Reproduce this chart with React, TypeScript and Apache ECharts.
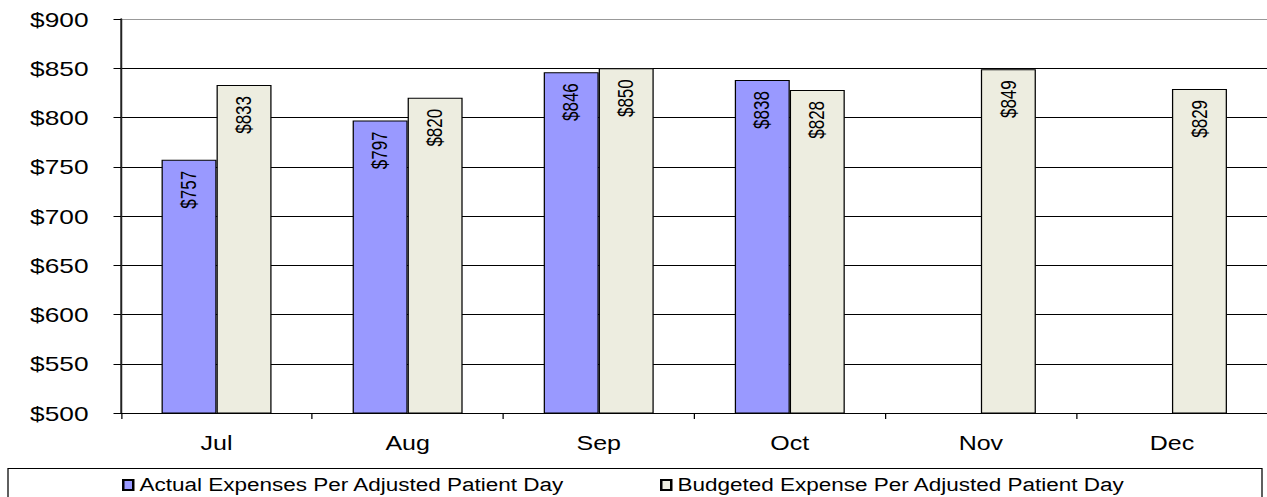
import React, { useEffect, useRef } from "react";
import * as echarts from "echarts";

const categories = ["Jul", "Aug", "Sep", "Oct", "Nov", "Dec"];
const actualValues: (number | null)[] = [757, 797, 846, 838, null, null];
const budgetValues: number[] = [833, 820, 850, 828, 849, 829];
const actualName = "Actual Expenses Per Adjusted Patient Day";
const budgetName = "Budgeted Expense Per Adjusted Patient Day";

const STRETCH = 1.25;
const W = 1267 / STRETCH;
const H = 497;
const FONT = '"Liberation Sans", Arial, sans-serif';

export default function App() {
  const ref = useRef<HTMLDivElement>(null);
  useEffect(() => {
    if (!ref.current) return;
    const chart = echarts.init(ref.current, null, { renderer: "svg" });
    const splitColors = ["#000", "#000", "#000", "#000", "#000", "#000", "#000", "#000", "#999"];
    const labelCfg = {
      show: true,
      position: "insideTop",
      rotate: 90,
      align: "right",
      verticalAlign: "middle",
      distance: 11,
      fontSize: 17,
      fontWeight: "normal",
      fontFamily: FONT,
      color: "#000",
      formatter: (p: any) => "$" + p.value,
    };
    chart.setOption({
      animation: false,
      backgroundColor: "#fff",
      grid: { left: 121 / STRETCH, right: 0, top: 19, bottom: 84 },
      xAxis: {
        type: "category",
        data: categories,
        axisLine: { show: true, lineStyle: { color: "#000", width: 1 } },
        axisTick: { show: true, length: 6, lineStyle: { color: "#000" } },
        axisLabel: { fontSize: 20, fontWeight: "normal", fontFamily: FONT, color: "#000", margin: 20 },
        splitLine: { show: false },
      },
      yAxis: {
        type: "value",
        min: 500,
        max: 900,
        interval: 50,
        axisLine: { show: true, lineStyle: { color: "#222", width: 1.6 } },
        axisTick: { show: true, length: 6, lineStyle: { color: "#000" } },
        axisLabel: {
          fontSize: 21,
          fontWeight: "normal",
          fontFamily: FONT,
          color: "#000",
          margin: 26,
          formatter: (v: number) => "$" + v,
        },
        splitLine: { show: true, lineStyle: { color: splitColors, width: 1 } },
      },
      legend: [
        {
          data: [actualName],
          left: 122 / STRETCH,
          top: 476,
          icon: "rect",
          itemWidth: 8,
          itemHeight: 10,
          padding: 0,
          textStyle: { fontSize: 18, fontFamily: FONT, color: "#000" },
        },
        {
          data: [budgetName],
          left: 660 / STRETCH,
          top: 476,
          icon: "rect",
          itemWidth: 8,
          itemHeight: 10,
          padding: 0,
          textStyle: { fontSize: 18, fontFamily: FONT, color: "#000" },
        },
      ],
      graphic: [
        {
          type: "rect",
          shape: { x: 8 / STRETCH, y: 468.5, width: (1262 - 8) / STRETCH, height: 60 },
          style: { fill: "none", stroke: "#000", lineWidth: 1 },
          silent: true,
        },
      ],
      series: [
        {
          name: actualName,
          type: "bar",
          data: actualValues,
          barWidth: 55 / STRETCH,
          barGap: "0%",
          itemStyle: { color: "#9999FF", borderColor: "#000", borderWidth: 1 },
          label: labelCfg,
        },
        {
          name: budgetName,
          type: "bar",
          data: budgetValues,
          barWidth: 55 / STRETCH,
          barGap: "0%",
          itemStyle: { color: "#EDEDE0", borderColor: "#000", borderWidth: 1 },
          label: labelCfg,
        },
      ],
    });
    return () => chart.dispose();
  }, []);
  return (
    <div
      style={{
        position: "fixed",
        left: 0,
        top: 0,
        width: 1267,
        height: H,
        overflow: "hidden",
        background: "#fff",
      }}
    >
      <div
        ref={ref}
        style={{
          width: W,
          height: H,
          transform: `scaleX(${STRETCH})`,
          transformOrigin: "0 0",
        }}
      />
    </div>
  );
}
